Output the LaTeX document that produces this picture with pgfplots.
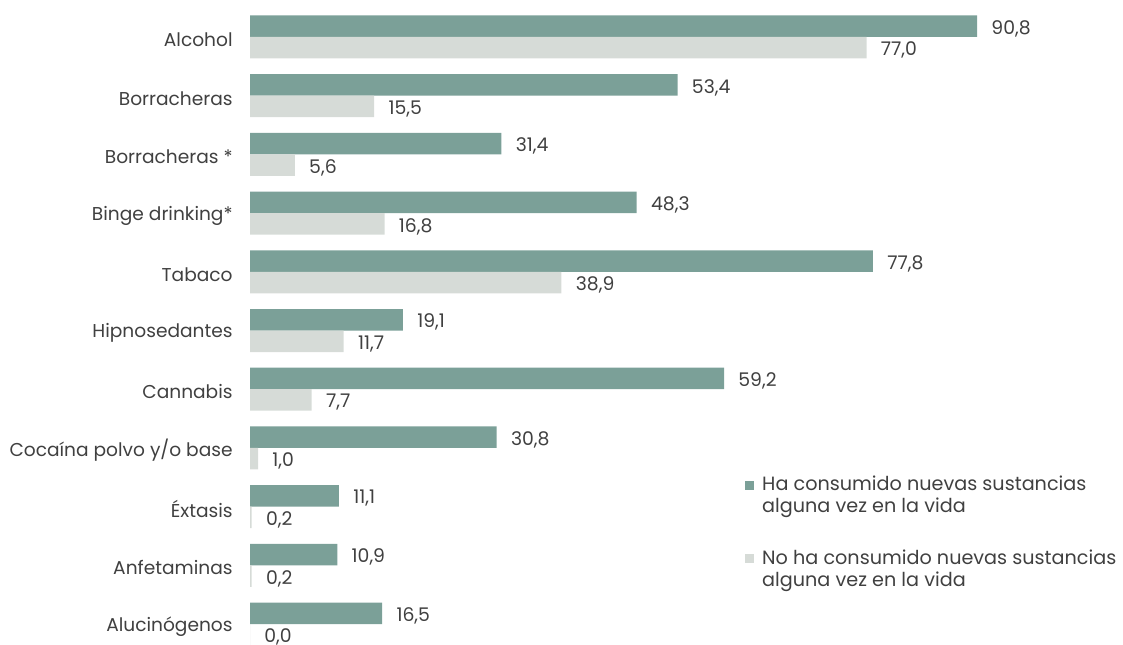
\documentclass[border=0pt]{standalone}
\usepackage{fontspec}
\setmainfont{Poppins}
\usepackage{pgfplots}
\pgfplotsset{compat=1.18}
\definecolor{darkbar}{RGB}{123,160,152}
\definecolor{lightbar}{RGB}{214,219,215}
\definecolor{txt}{RGB}{64,64,64}
\begin{document}
\begin{tikzpicture}
\path[use as bounding box] (0pt,0pt) rectangle (561.5pt,322pt);
\begin{axis}[
  at={(125pt,318.175pt)}, anchor=north west,
  scale only axis, width=400.35pt, height=322.85pt,
  xmin=0, xmax=100, ymin=-0.5, ymax=10.5,
  xbar, bar width=10.75pt,
  axis line style={draw=none},
  xtick=\empty, ytick={0,...,10},
  yticklabels={Alucinógenos, Anfetaminas, Éxtasis, Cocaína polvo y/o base, Cannabis, Hipnosedantes, Tabaco, Binge drinking*, Borracheras *, Borracheras\ , Alcohol},
  major tick length=0pt,
  yticklabel style={font=\fontsize{9.3}{11}\selectfont, text=txt, inner sep=0pt, xshift=-8.5pt, yshift=-1.3pt},
  point meta=x,
  nodes near coords,
  nodes near coords style={font=\fontsize{9.4}{11}\selectfont, text=txt, anchor=west, inner sep=0pt, xshift=7pt, yshift=-1.3pt,
    /pgf/number format/.cd, fixed, fixed zerofill, precision=1, use comma, assume math mode=true},
  clip=false,
  legend image code/.code={\fill[#1] (0pt,3.25pt) rectangle (4.5pt,7.75pt);},
  legend style={at={(axis cs:61.8,2.59)}, anchor=north west, draw=none, fill=none,
    font=\fontsize{9.6}{11}\selectfont, text=txt,
    cells={anchor=west, align=left}, row sep=13pt, inner sep=0pt,
    /tikz/every odd column/.append style={column sep=2pt}},
]
\addplot[fill=darkbar, draw=none, bar shift=5.375pt] coordinates {
 (16.5,0) (10.9,1) (11.1,2) (30.8,3) (59.2,4) (19.1,5) (77.8,6) (48.3,7) (31.4,8) (53.4,9) (90.8,10)};
\addlegendentry{Ha consumido nuevas sustancias\\alguna vez en la vida}
\addplot[fill=lightbar, draw=none, bar shift=-5.375pt] coordinates {
 (0.0,0) (0.2,1) (0.2,2) (1.0,3) (7.7,4) (11.7,5) (38.9,6) (16.8,7) (5.6,8) (15.5,9) (77.0,10)};
\addlegendentry{No ha consumido nuevas sustancias\\alguna vez en la vida}
\end{axis}
\end{tikzpicture}
\end{document}
